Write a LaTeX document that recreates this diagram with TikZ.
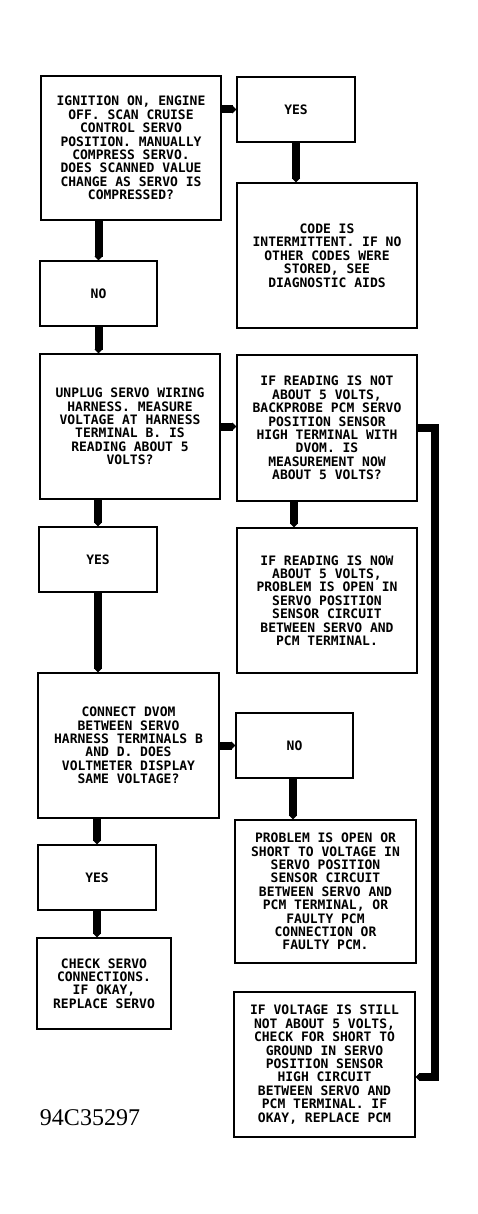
\documentclass[tikz,border=0pt]{standalone}
\usepackage{fontspec}
\newfontfamily\chartfont{DejaVu Sans Mono}
\newfontfamily\idfont{Liberation Serif}
\usetikzlibrary{arrows.meta,positioning}

\begin{document}
\begin{tikzpicture}[
  x=1pt, y=-1pt,
  box/.style={draw, line width=1.3pt, align=center, inner sep=0pt,
              font=\chartfont\bfseries\fontsize{13}{13.4}\selectfont},
  bigbox/.style={box, minimum width=180pt, minimum height=145pt},
  ansbox/.style={box, minimum width=118pt, minimum height=65pt},
  flow/.style={line width=8pt, -{Triangle[length=4pt,width=8pt]}}
]
  \useasboundingbox (0,0) rectangle (478,1214);

  % left column
  \node[bigbox, minimum height=144pt] (ign) at (131,148)
    {IGNITION ON, ENGINE\\OFF. SCAN CRUISE\\CONTROL SERVO\\POSITION. MANUALLY\\COMPRESS SERVO.\\DOES SCANNED VALUE\\CHANGE AS SERVO IS\\COMPRESSED?};
  \node[ansbox, minimum width=117pt] (no1) at (98.5,293.5) {NO};
  \node[bigbox] (unplug) at (130,426.5)
    {UNPLUG SERVO WIRING\\HARNESS. MEASURE\\VOLTAGE AT HARNESS\\TERMINAL B. IS\\READING ABOUT 5\\VOLTS?};
  \node[ansbox] (yes2) at (98,559.5) {YES};
  \node[bigbox, minimum width=181pt] (connect) at (128.5,745.5)
    {CONNECT DVOM\\BETWEEN SERVO\\HARNESS TERMINALS B\\AND D. DOES\\VOLTMETER DISPLAY\\SAME VOLTAGE?};
  \node[ansbox] (yes3) at (97,877.5) {YES};
  \node[box, minimum width=134pt, minimum height=91pt] (check) at (104,983.5)
    {CHECK SERVO\\CONNECTIONS.\\IF OKAY,\\REPLACE SERVO};

  % right column
  \node[ansbox] (yes1) at (296,109.5) {YES};
  \node[bigbox] (code) at (327,255.5)
    {CODE IS\\INTERMITTENT. IF NO\\OTHER CODES WERE\\STORED, SEE\\DIAGNOSTIC AIDS};
  \node[bigbox, minimum height=146pt] (notfive) at (327,428)
    {IF READING IS NOT\\ABOUT 5 VOLTS,\\BACKPROBE PCM SERVO\\POSITION SENSOR\\HIGH TERMINAL WITH\\DVOM. IS\\MEASUREMENT NOW\\ABOUT 5 VOLTS?};
  \node[bigbox] (nowfive) at (327,600.5)
    {IF READING IS NOW\\ABOUT 5 VOLTS,\\PROBLEM IS OPEN IN\\SERVO POSITION\\SENSOR CIRCUIT\\BETWEEN SERVO AND\\PCM TERMINAL.};
  \node[ansbox, minimum width=117pt] (no3) at (294.5,745.5) {NO};
  \node[bigbox, minimum width=181pt, minimum height=143pt] (problem) at (325.5,891.5)
    {PROBLEM IS OPEN OR\\SHORT TO VOLTAGE IN\\SERVO POSITION\\SENSOR CIRCUIT\\BETWEEN SERVO AND\\PCM TERMINAL, OR\\FAULTY PCM\\CONNECTION OR\\FAULTY PCM.};
  \node[bigbox, minimum width=181pt] (still) at (324.5,1064.5)
    {IF VOLTAGE IS STILL\\NOT ABOUT 5 VOLTS,\\CHECK FOR SHORT TO\\GROUND IN SERVO\\POSITION SENSOR\\HIGH CIRCUIT\\BETWEEN SERVO AND\\PCM TERMINAL. IF\\OKAY, REPLACE PCM};

  \node[font=\idfont\fontsize{24}{24}\selectfont, inner sep=0pt] (figid) at (90,1118) {94C35297};

  % connectors
  \draw[flow] (ign.east |- yes1.west) -- (yes1.west);
  \draw[flow] (yes1.south) -- (yes1.south |- code.north);
  \draw[flow] (ign.south -| no1.north) -- (no1.north);
  \draw[flow] (no1.south) -- (no1.south |- unplug.north);
  \draw[flow] (unplug.east) -- (notfive.west |- unplug.east);
  \draw[flow] ([xshift=-33pt]notfive.south) -- ([xshift=-33pt]notfive.south |- nowfive.north);
  \draw[flow] (unplug.south -| yes2.north) -- (yes2.north);
  \draw[flow] (yes2.south) -- (yes2.south |- connect.north);
  \draw[flow] (connect.east) -- (no3.west);
  \draw[flow] ([xshift=-1.5pt]no3.south) -- ([xshift=-1.5pt]no3.south |- problem.north);
  \draw[flow] (connect.south -| yes3.north) -- (yes3.north);
  \draw[flow] (yes3.south) -- (yes3.south |- check.north);
  \coordinate (bend) at (435,1077);
  \draw[flow] (notfive.east) -| (bend) -- (still.east |- bend);
\end{tikzpicture}
\end{document}
